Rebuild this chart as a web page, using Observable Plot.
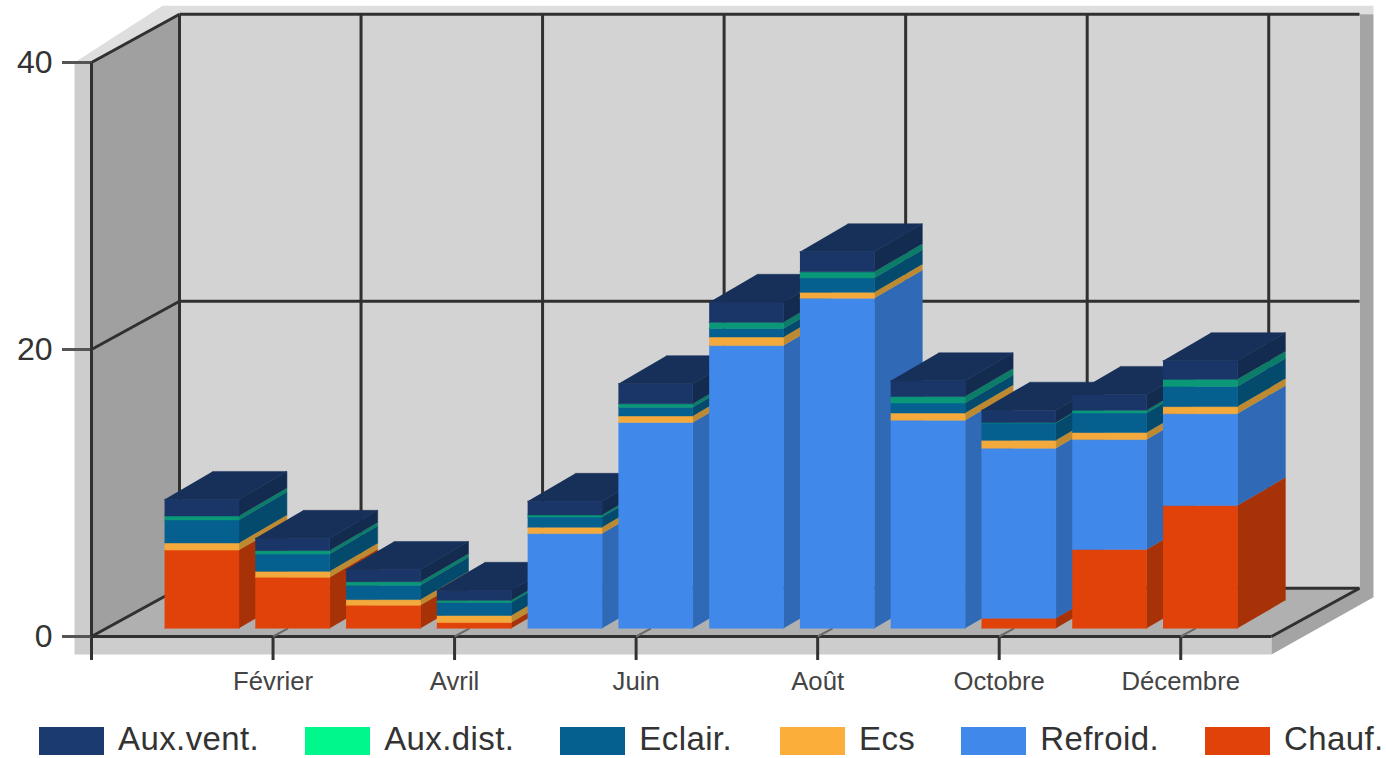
<!DOCTYPE html>
<html lang="fr">
<head>
<meta charset="utf-8">
<script src="https://cdn.jsdelivr.net/npm/d3@7"></script>
<script src="https://cdn.jsdelivr.net/npm/@observablehq/plot@0.6"></script>
<style>
  html, body { margin: 0; background: #fff; overflow: hidden; }
  #chart svg { display: block; }
  .legend { display: flex; gap: 46px; margin-left: 39px; height: 36px; align-items: center;
            font: 33px/30px "Liberation Sans", sans-serif; letter-spacing: 0.4px; color: #333; }
  .legend div { display: flex; align-items: center; gap: 14px; }
  .legend i { display: block; width: 65px; height: 28px; position: relative; top: 1px; }
  .legend span { display: block; position: relative; top: -1px; }
  .legend div:nth-child(4) { margin-left: 2px; }
</style>
</head>
<body>
<div id="chart"></div>
<div class="legend" id="legend"></div>
<script>
// Monthly consumption by end use, stacked from the ground up
const months = ["Janvier","Février","Mars","Avril","Mai","Juin","Juillet","Août","Septembre","Octobre","Novembre","Décembre"];
const chauf   = [5.45, 3.55, 1.6, 0.4, 0, 0, 0, 0, 0, 0.7, 5.5, 8.55];
const refroid = [0, 0, 0, 0, 6.6, 14.35, 19.7, 23.0, 14.5, 11.85, 7.65, 6.4];
const ecs     = [0.5, 0.42, 0.4, 0.5, 0.45, 0.45, 0.6, 0.42, 0.5, 0.55, 0.5, 0.5];
const eclair  = [1.6, 1.2, 1.0, 0.9, 0.7, 0.6, 0.6, 1.0, 0.7, 1.2, 1.35, 1.4];
const auxDist = [0.28, 0.25, 0.25, 0.15, 0.15, 0.25, 0.42, 0.42, 0.45, 0.05, 0.2, 0.5];
const auxVent = [1.15, 0.85, 0.85, 0.7, 0.95, 1.4, 1.4, 1.4, 1.1, 0.85, 1.1, 1.3];

// Stack order bottom to top; legend reads top to bottom
const stack = [
  {name: "Chauf.",    values: chauf,   swatch: "#e0420a", front: "#e0420a", side: "#a83208"},
  {name: "Refroid.",  values: refroid, swatch: "#4089eb", front: "#4089eb", side: "#3069b5"},
  {name: "Ecs",       values: ecs,     swatch: "#fbae3a", front: "#f3a93c", side: "#bd8a32"},
  {name: "Eclair.",   values: eclair,  swatch: "#056090", front: "#056090", side: "#044a6c"},
  {name: "Aux.dist.", values: auxDist, swatch: "#00f78b", front: "#0b9878", side: "#0a7c68"},
  {name: "Aux.vent.", values: auxVent, swatch: "#1a3a70", front: "#1a3668", side: "#142b50"}
];
const roofColor = "#17305a";

const tickMonths = [0, 2, 4, 6, 8, 10, 12];
const tickLabels = {2: "Février", 4: "Avril", 6: "Juin", 8: "Août", 10: "Octobre", 12: "Décembre"};
const valueTicks = [0, 20, 40];

// Oblique projection: one unit of depth shifts a point along both scales
const slots = 13, maxValue = 40;
const depthX = 0.9695, depthV = 3.36;
const at = ([x, v, d]) => ({x: x + d * depthX, y: v + d * depthV});

// Bar footprint inside a month slot and along the depth axis
const barStart = 0.64, barEnd = 1.46, near = 0.17, far = 0.715, farLift = 0.12;

const polygons = [];
const poly = (fill, ...pts) => {
  const id = polygons.length ? polygons[polygons.length - 1].id + 1 : 0;
  pts.forEach(p => polygons.push({id, fill, ...at(p)}));
};

// Chart box: outer rim, side walls, back wall and floor
const rimX = -0.187, rimBottom = -1.25, rimTop = 40.6, rimRight = 13.154;
poly("#dedede", [rimX, maxValue, 0], [rimX, rimTop, 1], [rimRight, rimTop, 1], [rimRight, maxValue, 1], [0, maxValue, 1], [0, maxValue, 0]);
poly("#cdcdcd", [rimX, maxValue, 0], [rimX, rimBottom, 0], [slots, rimBottom, 0], [slots, 0, 0], [0, 0, 0], [0, maxValue, 0]);
poly("#a4a4a4", [slots, rimBottom, 0], [rimRight, -0.63, 1], [rimRight, maxValue, 1], [slots, maxValue, 1], [slots, 0, 1], [slots, 0, 0]);
poly("#d3d3d3", [0, 0, 1], [slots, 0, 1], [slots, maxValue, 1], [0, maxValue, 1]);
poly("#a0a0a0", [0, 0, 0], [0, 0, 1], [0, maxValue, 1], [0, maxValue, 0]);
poly("#b0b0b0", [0, 0, 0], [slots, 0, 0], [slots, 0, 1], [0, 0, 1]);

// Grid lines on the walls and floor
const gridRows = [];
const seg = (a, b, stroke = "#303030", width = 3) => {
  const p = at(a), q = at(b);
  gridRows.push({x1: p.x, y1: p.y, x2: q.x, y2: q.y, stroke, width});
};
tickMonths.forEach(m => seg([m, 0, 1], [m, maxValue, 1]));
valueTicks.forEach(v => {
  seg([0, v, 1], [slots, v, 1]);
  seg([0, v, 0], [0, v, 1]);
});
seg([0, 0, 0], [0, maxValue, 0]);
seg([slots, 0, 0], [slots, 0, 1]);
seg([0, 0, 0], [slots, 0, 0]);
tickMonths.slice(1).forEach(m => seg([m, 0, 0], [m, 0, near], "#6a6a6a", 2));

// One box per month, left to right so nearer boxes overlap earlier sides
const bars = [];
const barPoly = (fill, ...pts) => {
  const id = bars.length ? bars[bars.length - 1].id + 1 : 0;
  pts.forEach(p => bars.push({id, fill, ...at(p)}));
};
months.forEach((month, i) => {
  const x0 = i + barStart, x1 = i + barEnd;
  let base = 0;
  stack.forEach(s => {
    const v = s.values[i];
    if (v > 0) {
      barPoly(s.side, [x1, base, near], [x1, base + v, near], [x1, base + v + farLift, far], [x1, base + farLift, far]);
      barPoly(s.front, [x0, base, near], [x1, base, near], [x1, base + v, near], [x0, base + v, near]);
    }
    base += v;
  });
  barPoly(roofColor, [x0, base, near], [x1, base, near], [x1, base + farLift, far], [x0, base + farLift, far]);
});

const chart = Plot.plot({
  width: 1386,
  height: 722,
  marginLeft: 91,
  marginRight: 115,
  marginTop: 62,
  marginBottom: 86,
  x: {domain: [0, slots]},
  y: {domain: [0, maxValue]},
  color: {type: "identity"},
  style: {fontFamily: "'Liberation Sans', sans-serif", background: "transparent", color: "#333"},
  marks: [
    Plot.line(polygons, {x: "x", y: "y", z: "id", fill: "fill", stroke: "none"}),
    Plot.axisX({ticks: tickMonths, tickFormat: d => tickLabels[d] ?? "", tickSize: 24, tickPadding: 11, label: null, fontSize: 25.7, stroke: "#333", strokeWidth: 3, fill: "#444"}),
    Plot.axisY({ticks: valueTicks, tickSize: 29, tickPadding: 10, label: null, fontSize: 32, stroke: "#555", strokeWidth: 3, fill: "#333"}),
    Plot.link(gridRows, {x1: "x1", y1: "y1", x2: "x2", y2: "y2", stroke: "stroke", strokeWidth: "width"}),
    Plot.line(bars, {x: "x", y: "y", z: "id", fill: "fill", stroke: "fill", strokeWidth: 0.5})
  ]
});
document.getElementById("chart").append(chart);

// Legend strip under the chart
const legend = document.getElementById("legend");
[...stack].reverse().forEach(s => {
  const item = document.createElement("div");
  const mark = document.createElement("i");
  mark.style.background = s.swatch;
  const label = document.createElement("span");
  label.textContent = s.name;
  item.append(mark, label);
  legend.append(item);
});
</script>
</body>
</html>
